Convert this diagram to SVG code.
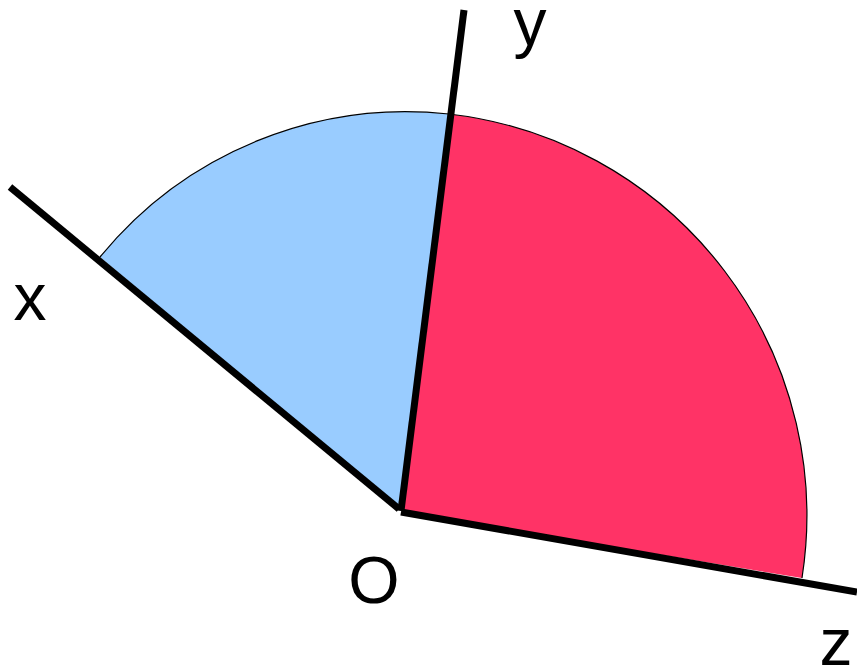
<svg xmlns="http://www.w3.org/2000/svg" width="857" height="671" viewBox="0 0 857 671">
<style>
.arc{fill:none;stroke:#000;stroke-width:1.2}
.axis{stroke:#000;stroke-width:7;stroke-linecap:butt}
.lbl{font-family:"Liberation Sans",Arial,sans-serif;font-size:66px;fill:#000;text-anchor:middle}
</style>
<rect width="857" height="671" fill="#fff"/>
<g id="blue-sector">
<path d="M400,510 L100,257 A395,395 0 0,1 449,114 Z" fill="#99ccff"/>
<path class="arc" d="M100,257 A395,395 0 0,1 449,114"/>
</g>
<g id="red-sector">
<path d="M402,512 L449,114 A404,404 0 0,1 802,578 Z" fill="#ff3366"/>
<path class="arc" d="M449,114 A404,404 0 0,1 802,578"/>
</g>
<g id="connectors">
<line class="axis" x1="10" y1="187" x2="399" y2="509"/>
<line class="axis" x1="464" y1="10" x2="401" y2="511"/>
<line class="axis" x1="401" y1="512" x2="857" y2="592"/>
</g>
<g id="labels">
<text class="lbl" x="30" y="320">x</text>
<text class="lbl" x="530" y="45">y</text>
<text class="lbl" x="836" y="665">z</text>
<text class="lbl" x="374" y="603">O</text>
</g>
</svg>
